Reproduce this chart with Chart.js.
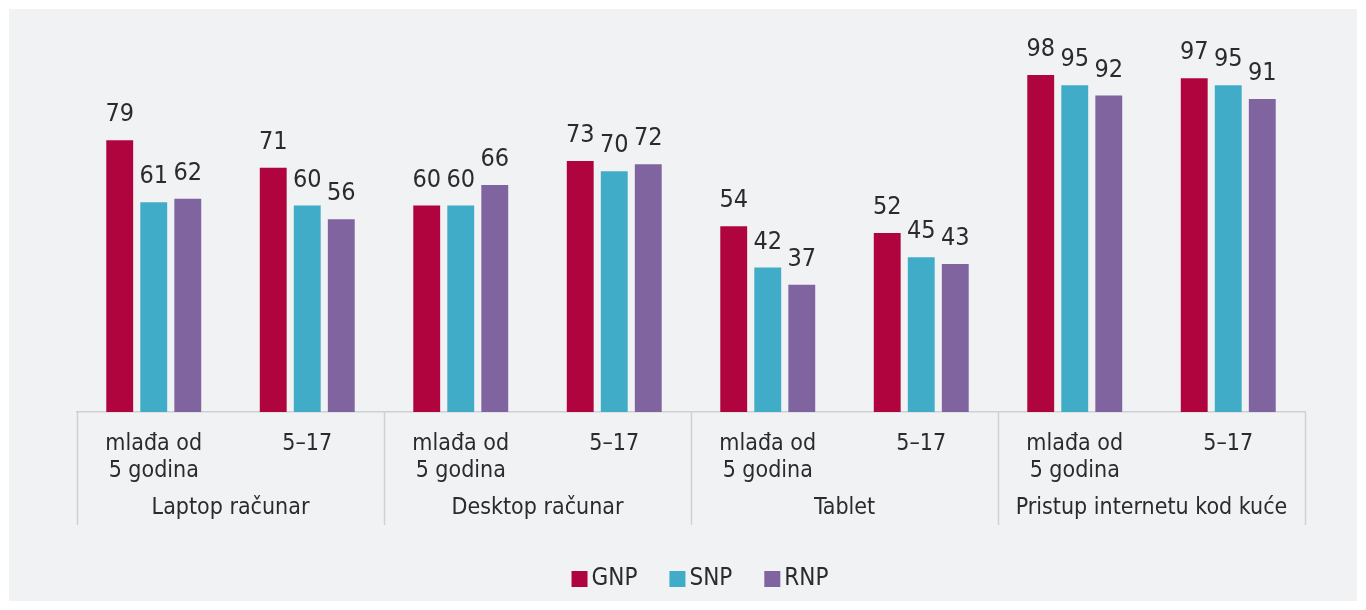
<!DOCTYPE html>
<html>
<head>
<meta charset="utf-8">
<script src="https://cdn.jsdelivr.net/npm/chart.js@4/dist/chart.umd.min.js"></script>
<style>
  html, body { margin: 0; padding: 0; background: #fff; }
  #wrap { position: relative; width: 1366px; height: 610px; }
</style>
</head>
<body>
<div id="wrap"><canvas id="myChart" width="1366" height="610"></canvas></div>
<script>
const groups = ['Laptop računar', 'Desktop računar', 'Tablet', 'Pristup internetu kod kuće'];
const ages = [['mlađa od', '5 godina'], '5–17'];
const gnp = [79, 71, 60, 73, 54, 52, 98, 97];
const snp = [61, 60, 60, 70, 42, 45, 95, 95];
const rnp = [62, 56, 66, 72, 37, 43, 92, 91];

const FONT = '"Liberation Sans Narrow", "DejaVu Sans Condensed", "Roboto", sans-serif';
const TEXT = '#2b2b2b';
const LINE = '#cfd0d2';

const labels = [];
groups.forEach(() => ages.forEach(a => labels.push(a)));

const ctx = document.getElementById('myChart');

// gray panel, value labels, group labels, separators and legend
const decor = {
  id: 'decor',
  beforeDraw(chart) {
    const c = chart.ctx;
    c.save();
    c.fillStyle = '#f1f2f4';
    c.fillRect(9, 9, 1348, 592);
    c.restore();
  },
  afterDraw(chart) {
    const c = chart.ctx;
    const area = chart.chartArea;
    const x = chart.scales.x;
    c.save();
    // values above bars
    c.font = '25px ' + FONT;
    c.fillStyle = TEXT;
    c.textAlign = 'center';
    c.textBaseline = 'alphabetic';
    chart.data.datasets.forEach((ds, i) => {
      chart.getDatasetMeta(i).data.forEach((bar, j) => {
        c.fillText(ds.data[j], bar.x, bar.y - 19);
      });
    });
    // separators between groups
    const bottom = area.bottom + 113;
    c.strokeStyle = LINE;
    c.lineWidth = 1.5;
    const edges = [area.left];
    for (let g = 1; g < groups.length; g++) {
      edges.push((x.getPixelForValue(g * 2 - 1) + x.getPixelForValue(g * 2)) / 2);
    }
    edges.push(area.right);
    edges.forEach(px => {
      c.beginPath();
      c.moveTo(Math.round(px) + 0.5, area.bottom);
      c.lineTo(Math.round(px) + 0.5, bottom);
      c.stroke();
    });
    // group names
    c.font = '23px ' + FONT;
    c.textBaseline = 'middle';
    groups.forEach((g, i) => {
      c.fillText(g, (edges[i] + edges[i + 1]) / 2, area.bottom + 96);
    });
    // legend
    c.font = '24px ' + FONT;
    c.textAlign = 'left';
    const items = chart.data.datasets.map(ds => ({ t: ds.label, col: ds.backgroundColor, w: c.measureText(ds.label).width }));
    const box = 16, gapIn = 4, gapOut = 32;
    let total = 0;
    items.forEach((it, i) => { total += box + gapIn + it.w + (i < items.length - 1 ? gapOut : 0); });
    let lx = 700 - total / 2;
    const ly = 579;
    items.forEach(it => {
      c.fillStyle = it.col;
      c.fillRect(lx, ly - box / 2, box, box);
      c.fillStyle = TEXT;
      c.fillText(it.t, lx + box + gapIn, ly);
      lx += box + gapIn + it.w + gapOut;
    });
    c.restore();
  }
};

new Chart(ctx, {
  type: 'bar',
  data: {
    labels: labels,
    datasets: [
      { label: 'GNP', data: gnp, backgroundColor: '#b0043f' },
      { label: 'SNP', data: snp, backgroundColor: '#41acc7' },
      { label: 'RNP', data: rnp, backgroundColor: '#7f64a0' }
    ]
  },
  options: {
    responsive: false,
    animation: false,
    events: [],
    layout: { padding: { left: 77, right: 61, top: 68, bottom: 85 } },
    categoryPercentage: 0.665,
    barPercentage: 0.79,
    plugins: {
      legend: { display: false },
      tooltip: { enabled: false }
    },
    scales: {
      y: { display: false, min: 0, max: 100 },
      x: {
        grid: { display: false },
        border: { display: true, color: LINE, width: 1.5 },
        ticks: {
          color: TEXT,
          font: { family: FONT, size: 23, lineHeight: 1.2 },
          padding: 10,
          maxRotation: 0,
          autoSkip: false
        },
        afterFit(scale) { scale.height = 113; }
      }
    }
  },
  plugins: [decor]
});
</script>
</body>
</html>
